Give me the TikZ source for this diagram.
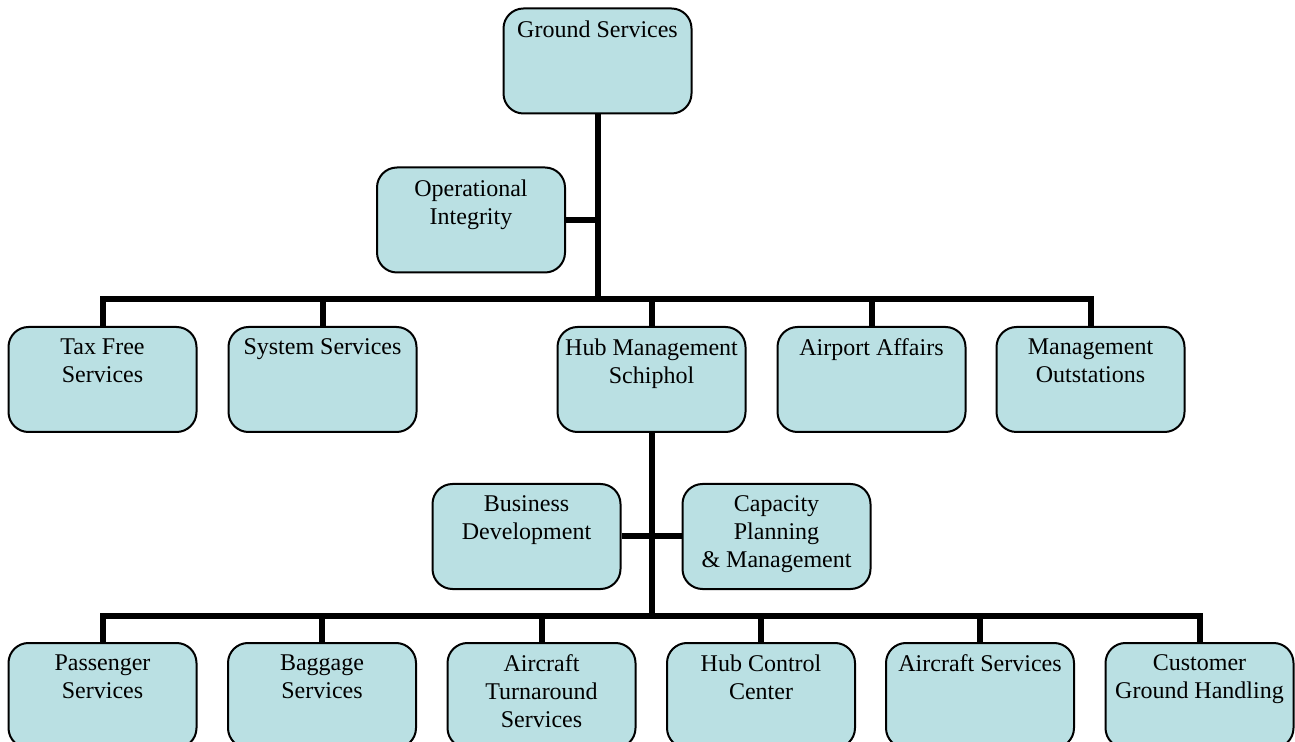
\documentclass[tikz,border=0pt]{standalone}
\usepackage{fontspec}
\setmainfont{Liberation Serif}
\definecolor{boxfill}{RGB}{186,224,227}
\newcommand{\orgtext}[1]{\parbox[c][52.5pt][t]{94pt}{\centering\vspace*{6pt}#1}}
\begin{document}
\begin{tikzpicture}[x=0.5pt, y=-0.5pt,
            unit/.style={draw, rounded corners=10pt, fill=boxfill, line width=1pt, inner sep=0pt, font=\fontsize{12}{14}\selectfont},
            link/.style={line width=3pt},
            bus/.style={line width=3pt, line cap=rect}]
            \useasboundingbox (0,0) rectangle (1295,742);

            \node (gs) at (597.5,61) [unit] {\orgtext{Ground Services}};
            \node (oi) at (471,220) [unit] {\orgtext{Operational\\Integrity}};

            \node (tf) at (102.5,379.5) [unit] {\orgtext{Tax Free\\Services}};
            \node (ss) at (322.5,379.5) [unit] {\orgtext{System Services}};
            \node (hm) at (651.5,379.5) [unit] {\orgtext{Hub Management\\Schiphol}};
            \node (aa) at (871.5,379.5) [unit] {\orgtext{Airport Affairs}};
            \node (mo) at (1090.5,379.5) [unit] {\orgtext{Management\\Outstations}};

            \node (bd) at (526.5,536.5) [unit] {\orgtext{Business\\Development}};
            \node (cp) at (776.5,536.5) [unit] {\orgtext{Capacity\\Planning\\\& Management}};

            \node (ps) at (102.5,695.5) [unit] {\orgtext{Passenger\\Services}};
            \node (bs) at (322,695.5) [unit] {\orgtext{Baggage\\Services}};
            \node (ts) at (541.5,695.5) [unit] {\orgtext{Aircraft\\Turnaround\\Services}};
            \node (hc) at (761,695.5) [unit] {\orgtext{Hub Control\\Center}};
            \node (as) at (980,695.5) [unit] {\orgtext{Aircraft Services}};
            \node (cg) at (1199.5,695.5) [unit] {\orgtext{Customer\\Ground Handling}};

            \coordinate (b1) at (597,299);
            \coordinate (b2) at (651.5,616);

            \draw[link] (gs.south) -- (gs.south |- b1);
            \draw[link] (oi.east) -- (oi.east -| gs.south);
            \draw[bus] (tf.north |- b1) -- (mo.north |- b1);
            \foreach \u in {tf,ss,hm,aa,mo}
                \draw[link] (\u.north) -- (\u.north |- b1);

            \draw[link] (hm.south) -- (hm.south |- b2);
            \draw[link] (bd.east) -- (cp.west);
            \draw[bus] (ps.north |- b2) -- (cg.north |- b2);
            \foreach \u in {ps,bs,ts,hc,as,cg}
                \draw[link] (\u.north) -- (\u.north |- b2);
        \end{tikzpicture}
\end{document}
